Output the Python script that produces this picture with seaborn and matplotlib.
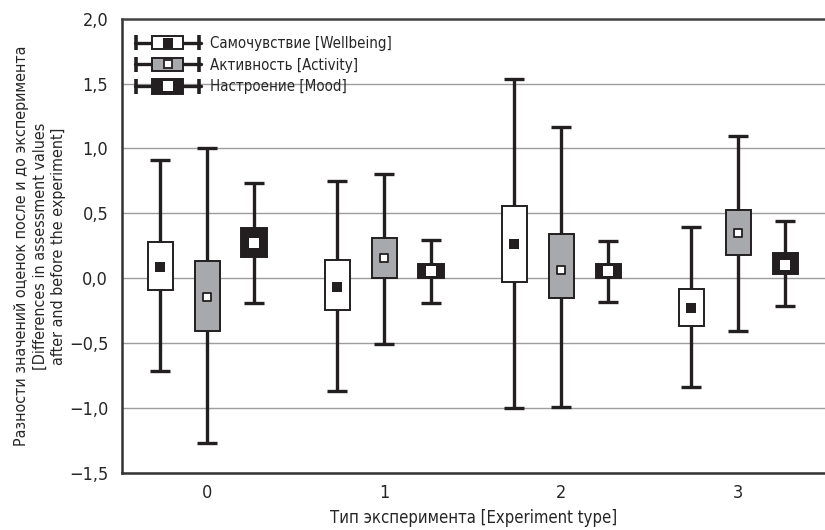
import numpy as np
import pandas as pd
import matplotlib
matplotlib.use("Agg")
import matplotlib.pyplot as plt
from matplotlib.legend_handler import HandlerBase
from matplotlib.lines import Line2D
from matplotlib.patches import Rectangle
import seaborn as sns

# Experiment types and series names
groups = [0, 1, 2, 3]
series = ["Самочувствие [Wellbeing]", "Активность [Activity]", "Настроение [Mood]"]

# Values (centre marker, box edges, whisker ends)
well_mean = [0.085, -0.064, 0.264, -0.226]
well_box_lo = [-0.09, -0.244, -0.031, -0.365]
well_box_hi = [0.28, 0.141, 0.558, -0.082]
well_wh_lo = [-0.713, -0.865, -1.0, -0.838]
well_wh_hi = [0.915, 0.748, 1.538, 0.392]

act_mean = [-0.14, 0.154, 0.064, 0.346]
act_box_lo = [-0.403, 0.0, -0.149, 0.177]
act_box_hi = [0.135, 0.312, 0.343, 0.525]
act_wh_lo = [-1.265, -0.505, -0.988, -0.408]
act_wh_hi = [1.0, 0.802, 1.162, 1.097]

mood_mean = [0.274, 0.055, 0.056, 0.105]
mood_box_lo = [0.166, 0.0, 0.0, 0.033]
mood_box_hi = [0.385, 0.11, 0.11, 0.195]
mood_wh_lo = [-0.188, -0.188, -0.182, -0.213]
mood_wh_hi = [0.738, 0.292, 0.289, 0.442]

y_ticks = [-1.5, -1.0, -0.5, 0.0, 0.5, 1.0, 1.5, 2.0]

DARK = "#231f20"
GRAY = "#a7a9ac"

# long table built from the arrays above
rows = []
for name, m, blo, bhi, wlo, whi in [
    (series[0], well_mean, well_box_lo, well_box_hi, well_wh_lo, well_wh_hi),
    (series[1], act_mean, act_box_lo, act_box_hi, act_wh_lo, act_wh_hi),
    (series[2], mood_mean, mood_box_lo, mood_box_hi, mood_wh_lo, mood_wh_hi),
]:
    for g, a, b, c, d, e in zip(groups, m, blo, bhi, wlo, whi):
        rows.append(dict(series=name, group=g, mean=a, box_lo=b, box_hi=c, wh_lo=d, wh_hi=e))
df = pd.DataFrame(rows)

styles = {
    series[0]: dict(offset=-0.265, face="white", mface=DARK, medge=DARK, ms=6.5, mew=0.0),
    series[1]: dict(offset=0.0, face=GRAY, mface="white", medge=DARK, ms=6.2, mew=1.3),
    series[2]: dict(offset=0.265, face=DARK, mface="white", medge="white", ms=7.0, mew=0.0),
}

sns.set_theme(style="white")
plt.rcParams['font.family'] = ['DejaVu Sans']
plt.rcParams['font.stretch'] = 'condensed'
plt.rcParams['axes.unicode_minus'] = True

fig = plt.figure(figsize=(8.25, 5.3), dpi=100)
ax = fig.add_axes([0.148, 0.107, 0.852, 0.858])

for name in series:
    st = styles[name]
    sub = df[df["series"] == name]
    pos = sub["group"].to_numpy() + st["offset"]
    stats = [dict(med=r.mean, q1=r.box_lo, q3=r.box_hi, whislo=r.wh_lo, whishi=r.wh_hi, fliers=[])
             for r in sub.itertuples()]
    ax.bxp(stats, positions=pos, widths=0.142, capwidths=0.112, patch_artist=True,
           showfliers=False, manage_ticks=False, zorder=3,
           boxprops=dict(facecolor=st["face"], edgecolor=DARK, linewidth=1.4),
           whiskerprops=dict(color=DARK, linewidth=2.4, solid_capstyle="butt"),
           capprops=dict(color=DARK, linewidth=2.4, solid_capstyle="butt"),
           medianprops=dict(linewidth=0))
    sns.scatterplot(x=pos, y=sub["mean"].to_numpy(), marker="s", s=st["ms"] ** 2,
                    color=st["mface"], edgecolor=st["medge"], linewidth=st["mew"],
                    ax=ax, zorder=4, legend=False)


class BoxHandler(HandlerBase):
    def __init__(self, face, mface, medge, ms, mew, bh):
        super().__init__()
        self.face, self.mface, self.medge = face, mface, medge
        self.ms, self.mew, self.bh = ms, mew, bh

    def create_artists(self, legend, orig_handle, xdescent, ydescent, width, height, fontsize, trans):
        x0 = -xdescent
        x1 = x0 + width
        xm = (x0 + x1) / 2
        cy = height / 2 - ydescent
        bw = width * 0.47
        arts = [
            Line2D([x0, x1], [cy, cy], color=DARK, lw=2.4),
            Line2D([x0 + 1, x0 + 1], [cy - 5.5, cy + 5.5], color=DARK, lw=2.6, solid_capstyle="butt"),
            Line2D([x1 - 1, x1 - 1], [cy - 5.5, cy + 5.5], color=DARK, lw=2.6, solid_capstyle="butt"),
            Rectangle((xm - bw / 2, cy - self.bh / 2), bw, self.bh, facecolor=self.face,
                      edgecolor=DARK, lw=1.4),
            Line2D([xm], [cy], marker="s", ms=self.ms, mfc=self.mface, mec=self.medge,
                   mew=self.mew, ls="none"),
        ]
        for a in arts:
            a.set_transform(trans)
        return arts


handles = [Rectangle((0, 0), 1, 1) for _ in series]
hmap = {}
for h, name in zip(handles, series):
    st = styles[name]
    bh = 9 if name != series[2] else 11
    hmap[h] = BoxHandler(st["face"], st["mface"], st["medge"], st["ms"], st["mew"], bh)

ax.legend(handles, series, handler_map=hmap, loc="upper left", bbox_to_anchor=(0.018, 0.962),
          frameon=False, fontsize=10.8, handlelength=4.4, handleheight=1.0, handletextpad=0.6,
          labelspacing=0.45, borderaxespad=0, borderpad=0)

ax.set_xlim(-0.48, 3.49)
ax.set_ylim(-1.5, 2.0)
ax.set_xticks(groups)
ax.set_xticklabels([str(g) for g in groups])
ax.set_yticks(y_ticks)
ax.set_yticklabels([f"{v:.1f}".replace(".", ",").replace("-", "\u2212") for v in y_ticks])
ax.tick_params(axis="x", direction="in", length=7, width=1.5, color=DARK, labelsize=13, pad=8)
ax.tick_params(axis="y", direction="in", length=0, labelsize=13, pad=10)
ax.grid(axis="y", color="#9d9d9d", linewidth=1.0)
ax.set_axisbelow(True)

for side in ["left", "bottom"]:
    ax.spines[side].set_color("#333333")
    ax.spines[side].set_linewidth(1.8)
ax.spines["top"].set_color("#444444")
ax.spines["top"].set_linewidth(1.8)
ax.spines["right"].set_visible(False)

ax.set_xlabel("Тип эксперимента [Experiment type]", fontsize=12, labelpad=5)
fig.text(40 / 825, 1 - 246 / 530,
         "Разности значений оценок после и до эксперимента\n"
         "[Differences in assessment values\nafter and before the experiment]",
         rotation=90, ha="center", va="center", fontsize=11.5, multialignment="center",
         linespacing=1.3)

fig.savefig("out.png", dpi=100)
